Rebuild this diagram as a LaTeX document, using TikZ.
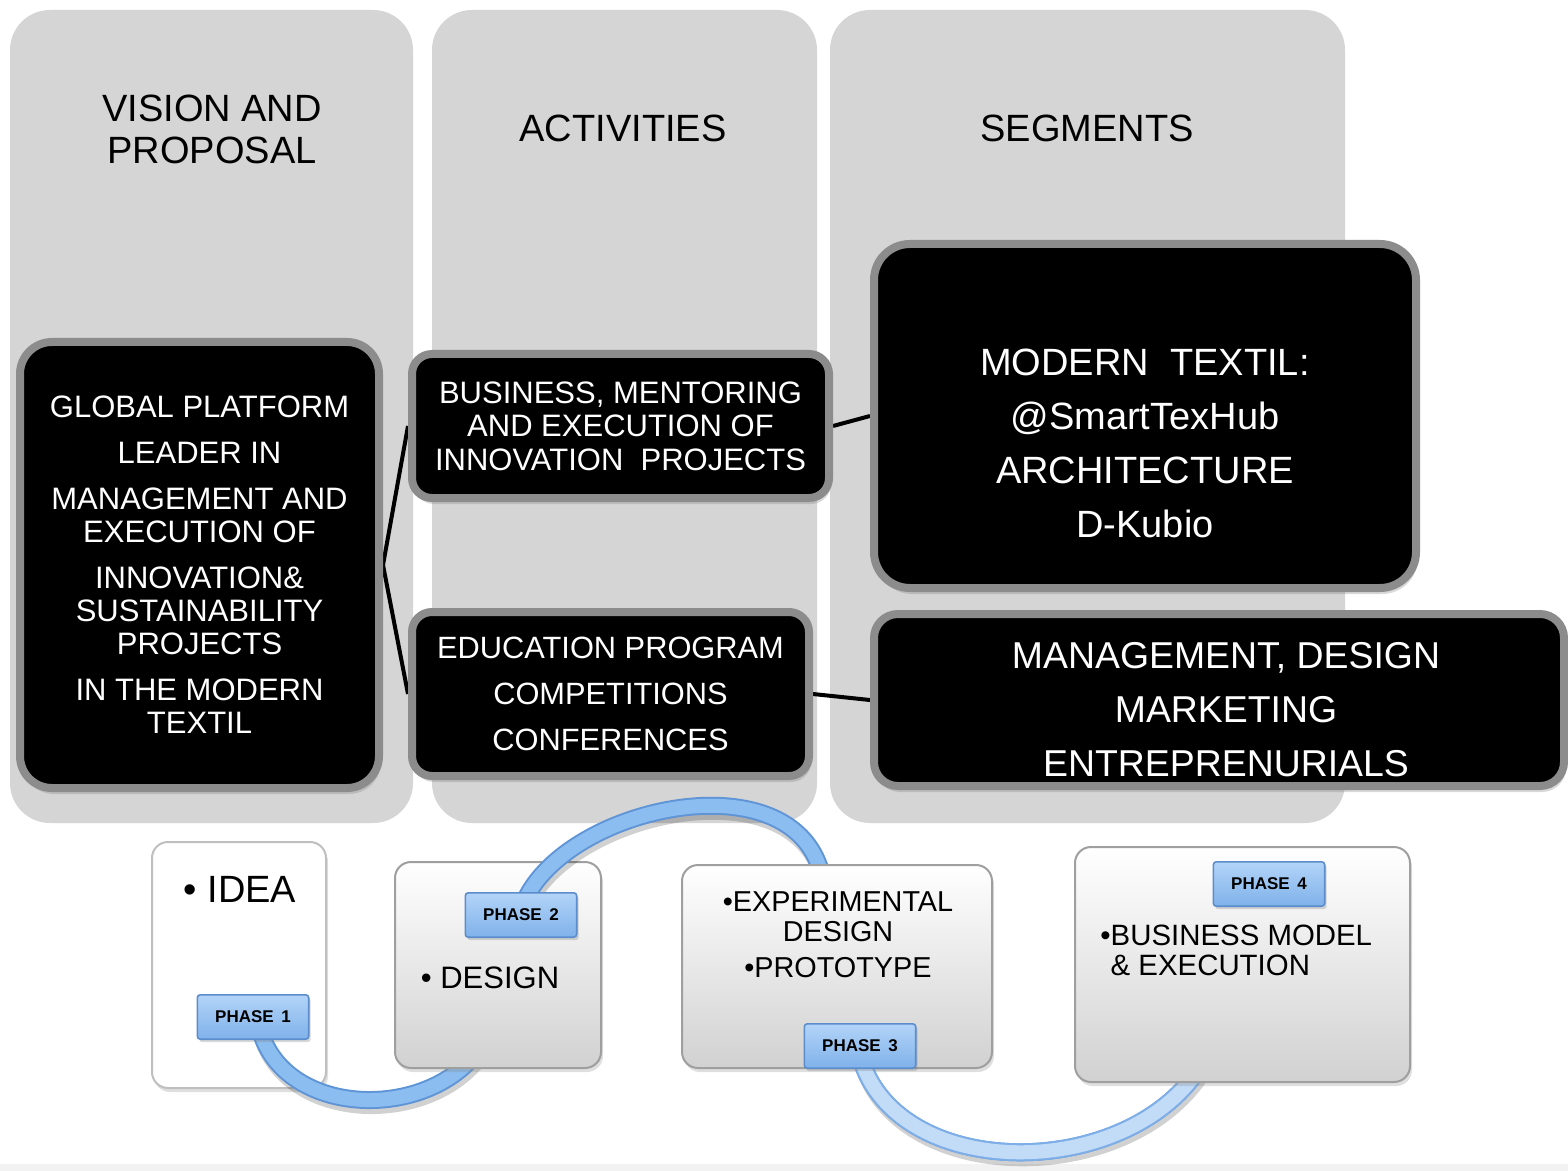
\documentclass[tikz,border=0pt]{standalone}
\usepackage{fontspec}
\setmainfont{Liberation Sans}
\usetikzlibrary{shadows,calc}
\definecolor{colbg}{HTML}{D5D5D5}
\definecolor{bordergray}{HTML}{8C8C8C}
\definecolor{phfillA}{HTML}{B3D4F8}
\definecolor{phfillB}{HTML}{7FB1EA}
\definecolor{phdraw}{HTML}{5B8DCC}
\definecolor{arcout}{HTML}{5F95D6}
\definecolor{arcin}{HTML}{8CBDF0}
\definecolor{arcoutL}{HTML}{7DAEE8}
\definecolor{arcinL}{HTML}{C2DCF8}
\pgfdeclarelayer{cols}
\pgfdeclarelayer{lines}
\pgfdeclarelayer{Lone}
\pgfdeclarelayer{Ltwo}
\pgfdeclarelayer{Lthree}
\pgfdeclarelayer{Lfour}
\pgfdeclarelayer{front}
\pgfsetlayers{cols,lines,main,Lone,Ltwo,Lthree,Lfour,front}
\begin{document}
\begin{tikzpicture}[x=0.5pt,y=-0.5pt,
  column/.style={fill=colbg, rounded corners=20pt, inner sep=0pt, minimum height=406.5pt},
  header/.style={font=\fontsize{19}{21}\selectfont, align=center, inner sep=0pt},
  blackbox/.style={fill=black, draw=bordergray, line width=4pt, text=white, align=center, inner sep=0pt,
    drop shadow={opacity=0.3, shadow xshift=1pt, shadow yshift=-3pt}},
  wtext/.style={text=white, align=center, inner sep=0pt},
  link/.style={line width=2pt, black},
  stagebox/.style={draw=gray!75, line width=1pt, rounded corners=8pt, top color=white, bottom color=black!18, inner sep=0pt,
    drop shadow={opacity=0.25, shadow xshift=1pt, shadow yshift=-2pt}},
  btext/.style={inner sep=0pt, text=black},
  phasetag/.style={draw=phdraw, line width=0.8pt, top color=phfillA, bottom color=phfillB, rounded corners=1.5pt,
    minimum width=55.7pt, minimum height=22.2pt, inner sep=0pt, font=\bfseries\fontsize{8.5}{10}\selectfont,
    drop shadow={opacity=0.3, shadow xshift=1pt, shadow yshift=-1.5pt}},
  cyclearc/.style={line width=7pt, draw=arcin,
    preaction={draw=black, opacity=0.18, line width=9pt, transform canvas={shift={(1pt,-2.5pt)}}},
    preaction={draw=arcout, line width=9pt}},
  cyclearcL/.style={cyclearc, draw=arcinL, preaction={draw=arcoutL, line width=9pt}}
]
\begin{pgfonlayer}{cols}
\fill[white] (0,0) rectangle (1568,1171);
\fill[black!5] (0,1164) rectangle (1568,1171);
\node[column, minimum width=201.5pt] (col1) at (211.5,416.5) {};
\node[column, minimum width=192.5pt] (col2) at (624.5,416.5) {};
\node[column, minimum width=257.5pt] (col3) at (1087.5,416.5) {};
\end{pgfonlayer}
\path[use as bounding box] (0,0) rectangle (1568,1171);

% headers
\node[header] (h1) at (212,129) {VISION AND\\PROPOSAL};
\node[header] (h2) at (623,128) {ACTIVITIES};
\node[header] (h3) at (1087,128) {SEGMENTS};

% black boxes
\node[blackbox, rounded corners=16pt, minimum width=179.5pt, minimum height=223pt,
  font=\fontsize{15.5}{16.5}\selectfont] (lbox) at (199.5,565)
  {GLOBAL PLATFORM\\[6.5pt] LEADER IN\\[6.5pt] MANAGEMENT AND\\ EXECUTION OF\\[6.5pt] INNOVATION\&\\ SUSTAINABILITY\\ PROJECTS\\[6.5pt] IN THE MODERN\\ TEXTIL};
\node[blackbox, rounded corners=10pt, minimum width=208.5pt, minimum height=72pt,
  font=\fontsize{15.5}{16.75}\selectfont] (act1) at (620.5,426)
  {BUSINESS, MENTORING\\ AND EXECUTION OF\\ INNOVATION\ \ PROJECTS};
\node[blackbox, rounded corners=10pt, minimum width=198.5pt, minimum height=82pt,
  font=\fontsize{15.4}{23}\selectfont] (act2) at (610.5,694)
  {EDUCATION PROGRAM\\ COMPETITIONS\\ CONFERENCES};
\node[blackbox, rounded corners=18pt, minimum width=271pt, minimum height=172pt] (seg1) at (1145,416) {};
\node[wtext, font=\fontsize{19}{27}\selectfont] (seg1t) at (1145,443)
  {MODERN\ \ TEXTIL:\\ @SmartTexHub\\ ARCHITECTURE\\ D-Kubio};
\node[blackbox, rounded corners=12pt, minimum width=345pt, minimum height=86pt] (seg2) at (1219,700) {};
\node[wtext, font=\fontsize{18.7}{27}\selectfont] (seg2t) at (1226,710)
  {MANAGEMENT, DESIGN\\ MARKETING\\ ENTREPRENURIALS};

% connectors
\begin{pgfonlayer}{lines}
\draw[link] (lbox.east) -- (act1.west);
\draw[link] (lbox.east) -- (act2.west);
\draw[link] (act1.east) -- (seg1.west);
\draw[link] (act2.east) -- (seg2.west);
\end{pgfonlayer}

% phase boxes
\node[stagebox, draw=gray!50, top color=white, bottom color=white, minimum width=87pt, minimum height=123pt] (box1) at (239,965) {};
\node[btext, font=\fontsize{19}{21}\selectfont] (t1) at (240,889) {• IDEA};

\begin{pgfonlayer}{Ltwo}
\node[stagebox, minimum width=103pt, minimum height=103pt] (box2) at (498,965) {};
\node[btext, font=\fontsize{15.5}{17}\selectfont] (t2) at (490,978) {• DESIGN};
\end{pgfonlayer}
\begin{pgfonlayer}{Lthree}
\node[stagebox, minimum width=155pt, minimum height=101.5pt] (box3) at (837,966.5) {};
\node[btext, align=center, font=\fontsize{14.4}{15}\selectfont] (t3) at (838,935)
  {•EXPERIMENTAL\\ DESIGN\\[3pt] •PROTOTYPE};
\end{pgfonlayer}
\begin{pgfonlayer}{Lfour}
\node[stagebox, minimum width=167.5pt, minimum height=117.5pt] (box4) at (1242.5,964.5) {};
\node[btext, align=left, anchor=west, font=\fontsize{14.7}{15}\selectfont] (t4) at (1100,950)
  {•BUSINESS MODEL\\ \hphantom{•}\& EXECUTION};
\end{pgfonlayer}

% phase tags
\begin{pgfonlayer}{front}
\node[phasetag] (ph1) at (253,1017) {PHASE\hspace{0.45em}1};
\node[phasetag] (ph2) at (521,915) {PHASE\hspace{0.45em}2};
\node[phasetag] (ph3) at (860,1046) {PHASE\hspace{0.45em}3};
\node[phasetag] (ph4) at (1269,884) {PHASE\hspace{0.45em}4};
\end{pgfonlayer}

% cycle arcs
\begin{pgfonlayer}{Lone}
\coordinate (a1s) at ($(ph1.south)+(9,-4)$);
\coordinate (a1e) at ($(box2.south west)+(80,-13)$);
\draw[cyclearc] (a1s) .. controls (290,1115) and (420,1120) .. (a1e);
\end{pgfonlayer}
\begin{pgfonlayer}{Ltwo}
\coordinate (a2s) at ($(ph2.north)+(6,4)$);
\coordinate (a2e) at ($(box3.north west)+(140,8)$);
\draw[cyclearc] (a2s) .. controls (575,805) and (790,760) .. (a2e);
\end{pgfonlayer}
\begin{pgfonlayer}{Lthree}
\coordinate (a3s) at ($(ph3.south)+(3,-4)$);
\coordinate (a3e) at ($(box4.south west)+(122,-10)$);
\draw[cyclearcL] (a3s) .. controls (905,1180) and (1120,1180) .. (a3e);
\end{pgfonlayer}
\end{tikzpicture}
\end{document}
